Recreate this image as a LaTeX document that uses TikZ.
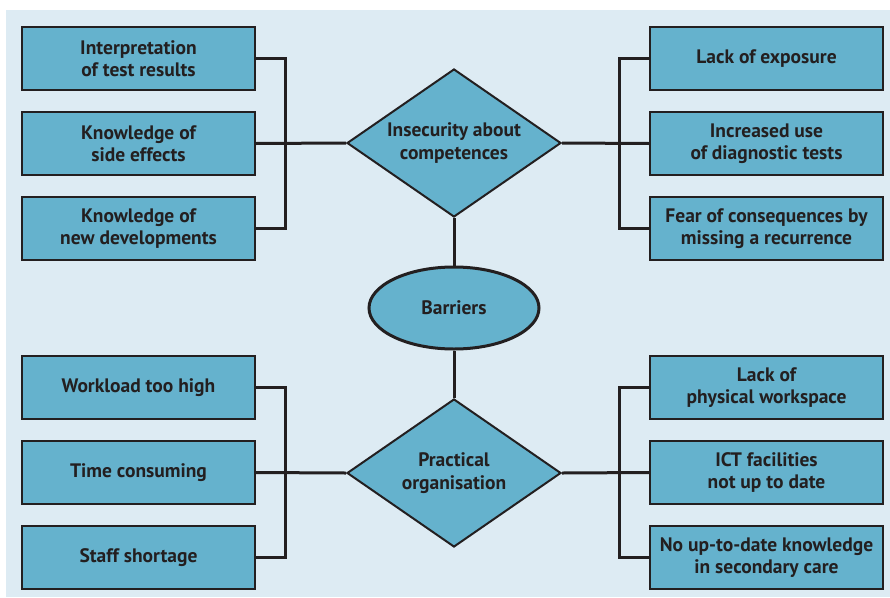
\documentclass[tikz,border=0pt]{standalone}
\usepackage{fontspec}
\setmainfont{PT Sans}
\usetikzlibrary{shapes.geometric}
\definecolor{bgblue}{HTML}{DDEBF3}
\definecolor{boxblue}{HTML}{65B2CD}
\definecolor{inkdark}{HTML}{231F20}
\tikzset{
  txtstyle/.style={align=center, text=inkdark, font=\fontsize{19.5}{22.5}\selectfont\bfseries},
  itembox/.style={txtstyle, draw=inkdark, line width=2pt, fill=boxblue, minimum width=233pt, minimum height=63pt, inner sep=0pt},
  hubdiamond/.style={txtstyle, diamond, aspect=1.45, draw=inkdark, line width=2pt, fill=boxblue, minimum width=214pt, minimum height=148pt, inner sep=0pt},
  hubellipse/.style={txtstyle, ellipse, draw=inkdark, line width=3pt, fill=boxblue, minimum width=170pt, minimum height=82pt, inner sep=0pt},
  conn/.style={draw=inkdark, line width=3pt}
}
\begin{document}
\begin{tikzpicture}[x=1pt,y=-1pt]
\useasboundingbox (0,0) rectangle (890,597);
\fill[bgblue] (6,10) rectangle (890,597);

\coordinate (insc) at (454,143);
\coordinate (prac) at (454,473);
\coordinate (barc) at (454,308);

\node[hubdiamond] (ins) at (insc) {Insecurity about\\competences};
\node[hubdiamond] (pra) at (prac) {Practical\\organisation};
\node[hubellipse] (bar) at (barc) {Barriers};

\node[itembox] (L1) at (138.5,58.5) {Interpretation\\of test results};
\node[itembox] (L2) at (138.5,143.5) {Knowledge of\\side effects};
\node[itembox] (L3) at (138.5,228.5) {Knowledge of\\new developments};
\node[itembox] (R1) at (766.5,58.5) {Lack of exposure};
\node[itembox] (R2) at (766.5,143.5) {Increased use\\of diagnostic tests};
\node[itembox] (R3) at (766.5,228.5) {Fear of consequences by\\missing a recurrence};

\node[itembox] (L4) at (138.5,387.5) {Workload too high};
\node[itembox] (L5) at (138.5,472.5) {Time consuming};
\node[itembox] (L6) at (138.5,557.5) {Staff shortage};
\node[itembox] (R4) at (766.5,387.5) {Lack of\\physical workspace};
\node[itembox] (R5) at (766.5,472.5) {ICT facilities\\not up to date};
\node[itembox] (R6) at (766.5,557.5) {No up-to-date knowledge\\in secondary care};

\draw[conn] (L1.east) -- ++(29,0) |- (L3.east);
\draw[conn] (L2.east) -- (ins.west);
\draw[conn] (R1.west) -- ++(-30,0) |- (R3.west);
\draw[conn] (R2.west) -- (ins.east);
\draw[conn] (L4.east) -- ++(29,0) |- (L6.east);
\draw[conn] (L5.east) -- (pra.west);
\draw[conn] (R4.west) -- ++(-30,0) |- (R6.west);
\draw[conn] (R5.west) -- (pra.east);
\draw[conn] (ins.south) -- (bar.north);
\draw[conn] (bar.south) -- (pra.north);
\end{tikzpicture}
\end{document}
